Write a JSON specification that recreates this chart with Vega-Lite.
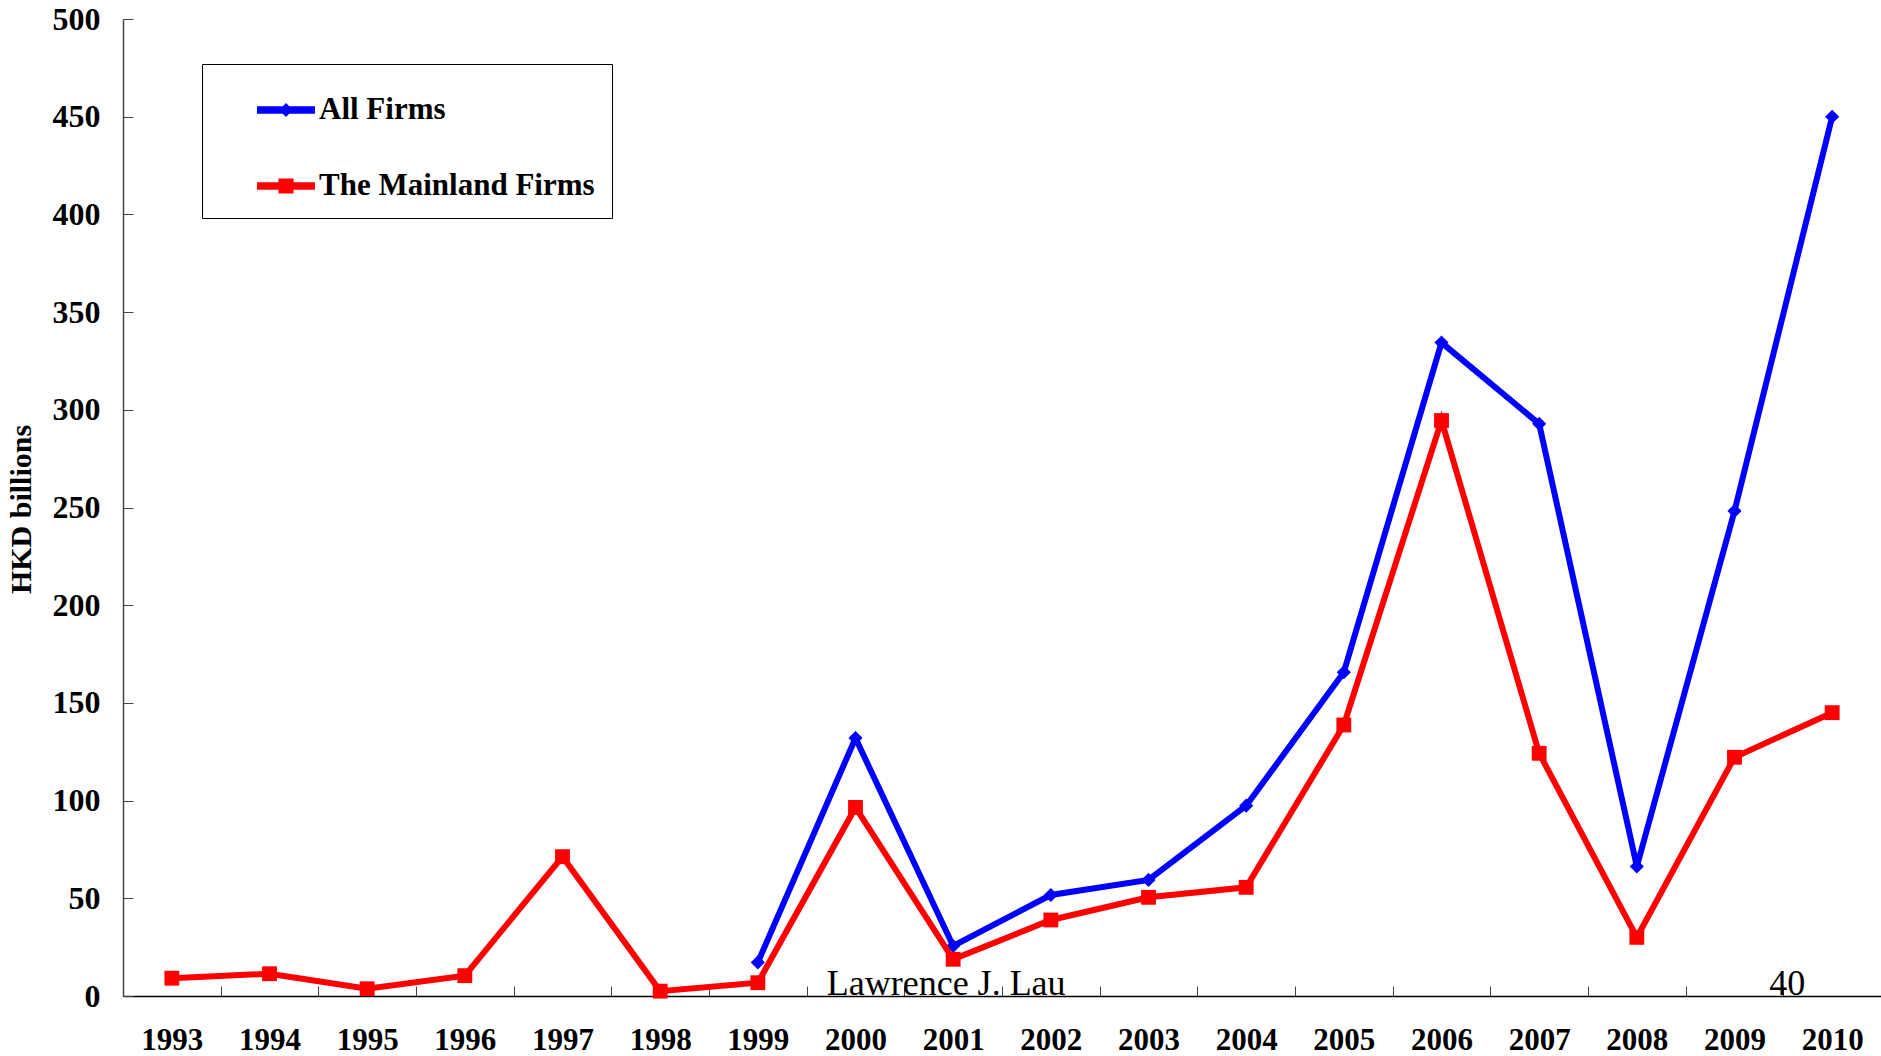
{
  "$schema": "https://vega.github.io/schema/vega-lite/v6.json",
  "width": 1758,
  "height": 977,
  "autosize": {"type": "none"},
  "padding": {"left": 123, "top": 19, "right": 0, "bottom": 60},
  "background": "white",
  "config": {"view": {"stroke": null}, "font": "Liberation Serif"},
  "datasets": {
    "series": [
      {"year": "1999", "series": "All Firms", "value": 17.2},
      {"year": "2000", "series": "All Firms", "value": 132},
      {"year": "2001", "series": "All Firms", "value": 25.6},
      {"year": "2002", "series": "All Firms", "value": 51.7},
      {"year": "2003", "series": "All Firms", "value": 59.4},
      {"year": "2004", "series": "All Firms", "value": 97.4},
      {"year": "2005", "series": "All Firms", "value": 165.7},
      {"year": "2006", "series": "All Firms", "value": 334.4},
      {"year": "2007", "series": "All Firms", "value": 292.8},
      {"year": "2008", "series": "All Firms", "value": 66.3},
      {"year": "2009", "series": "All Firms", "value": 248.2},
      {"year": "2010", "series": "All Firms", "value": 450},
      {"year": "1993", "series": "The Mainland Firms", "value": 9.1},
      {"year": "1994", "series": "The Mainland Firms", "value": 11.4},
      {"year": "1995", "series": "The Mainland Firms", "value": 3.7},
      {"year": "1996", "series": "The Mainland Firms", "value": 10.4},
      {"year": "1997", "series": "The Mainland Firms", "value": 71.3},
      {"year": "1998", "series": "The Mainland Firms", "value": 2.5},
      {"year": "1999", "series": "The Mainland Firms", "value": 6.8},
      {"year": "2000", "series": "The Mainland Firms", "value": 96.5},
      {"year": "2001", "series": "The Mainland Firms", "value": 18.8},
      {"year": "2002", "series": "The Mainland Firms", "value": 38.9},
      {"year": "2003", "series": "The Mainland Firms", "value": 50.5},
      {"year": "2004", "series": "The Mainland Firms", "value": 55.6},
      {"year": "2005", "series": "The Mainland Firms", "value": 138.7},
      {"year": "2006", "series": "The Mainland Firms", "value": 294.5},
      {"year": "2007", "series": "The Mainland Firms", "value": 124.2},
      {"year": "2008", "series": "The Mainland Firms", "value": 30},
      {"year": "2009", "series": "The Mainland Firms", "value": 122.2},
      {"year": "2010", "series": "The Mainland Firms", "value": 145}
    ],
    "author": [{"t": "Lawrence J. Lau", "year": "2001", "v": 0}],
    "page": [{"t": "40", "year": "2009", "v": 0}]
  },
  "encoding": {
    "x": {
      "field": "year",
      "type": "ordinal",
      "bandPosition": 0.5,
      "scale": {
        "type": "band",
        "domain": ["1993","1994","1995","1996","1997","1998","1999","2000","2001","2002","2003","2004","2005","2006","2007","2008","2009","2010"],
        "paddingInner": 0,
        "paddingOuter": 0
      },
      "axis": {
        "title": null,
        "labelAngle": 0,
        "tickBand": "extent",
        "tickSize": -10,
        "tickColor": "#444",
        "tickWidth": 1,
        "domainColor": "black",
        "domainWidth": 1.5,
        "labelFont": "Liberation Serif",
        "labelFontWeight": "bold",
        "labelFontSize": 31,
        "labelColor": "black",
        "labelPadding": 39
      }
    },
    "y": {
      "field": "value",
      "type": "quantitative",
      "scale": {"domain": [0, 500], "nice": false},
      "axis": {
        "title": "HKD billions",
        "titleFont": "Liberation Serif",
        "titleFontWeight": "bold",
        "titleFontSize": 30,
        "titleColor": "black",
        "titleX": -87,
        "titleY": 490,
        "values": [0, 50, 100, 150, 200, 250, 300, 350, 400, 450, 500],
        "grid": false,
        "tickSize": -10,
        "tickColor": "#444",
        "domainColor": "#444",
        "domainWidth": 1.5,
        "labelFont": "Liberation Serif",
        "labelFontWeight": "bold",
        "labelFontSize": 32,
        "labelColor": "black",
        "labelPadding": 33
      }
    }
  },
  "layer": [
    {
      "data": {"name": "series"},
      "transform": [{"filter": "datum.series === 'All Firms'"}],
      "mark": {"type": "line", "strokeWidth": 6, "point": {"shape": "diamond", "size": 200, "filled": true, "opacity": 1}},
      "encoding": {
        "color": {
          "field": "series",
          "type": "nominal",
          "scale": {"domain": ["All Firms", "The Mainland Firms"], "range": ["#0000FF", "#FF0000"]},
          "legend": {
            "orient": "none",
            "legendX": 79,
            "legendY": 45,
            "title": null,
            "strokeColor": "black",
            "padding": 17,
            "symbolOffset": 38,
            "symbolSize": 3364,
            "rowPadding": 32,
            "labelOffset": 4,
            "labelLimit": 800,
            "labelFont": "Liberation Serif",
            "labelFontWeight": "bold",
            "labelFontSize": 31,
            "labelColor": "black",
            "encode": {
              "labels": {
                "update": {
                  "text": {"signal": "datum.label + '\u00a0\u00a0\u00a0\u00a0\u00a0'"}
                }
              },
              "symbols": {
                "update": {
                  "shape": {"signal": "datum.value === 'All Firms' ? 'M-1,-0.13L1,-0.13L1,0.13L-1,0.13Z M0,-0.24L0.24,0L0,0.24L-0.24,0Z' : 'M-1,-0.13L1,-0.13L1,0.13L-1,0.13Z M-0.26,-0.26L0.26,-0.26L0.26,0.26L-0.26,0.26Z'"},
                  "fill": {"signal": "datum.value === 'All Firms' ? '#0000FF' : '#FF0000'"},
                  "stroke": {"value": "transparent"},
                  "strokeWidth": {"value": 0},
                  "opacity": {"value": 1}
                }
              }
            }
          }
        }
      }
    },
    {
      "data": {"name": "series"},
      "transform": [{"filter": "datum.series === 'The Mainland Firms'"}],
      "mark": {"type": "line", "strokeWidth": 6, "point": {"shape": "square", "size": 220, "filled": true, "opacity": 1}},
      "encoding": {
        "color": {"field": "series", "type": "nominal"}
      }
    },
    {
      "data": {"name": "author"},
      "mark": {"type": "text", "align": "center", "baseline": "alphabetic", "dx": -7, "dy": -1, "fontSize": 36, "font": "Liberation Serif", "color": "black"},
      "encoding": {
        "y": {"field": "v", "type": "quantitative"},
        "text": {"field": "t", "type": "nominal"}
      }
    },
    {
      "data": {"name": "page"},
      "mark": {"type": "text", "align": "center", "baseline": "alphabetic", "dx": 4, "dy": -1, "fontSize": 36, "font": "Liberation Serif", "color": "black"},
      "encoding": {
        "x": {"field": "year", "type": "ordinal", "bandPosition": 1},
        "y": {"field": "v", "type": "quantitative"},
        "text": {"field": "t", "type": "nominal"}
      }
    }
  ]
}
